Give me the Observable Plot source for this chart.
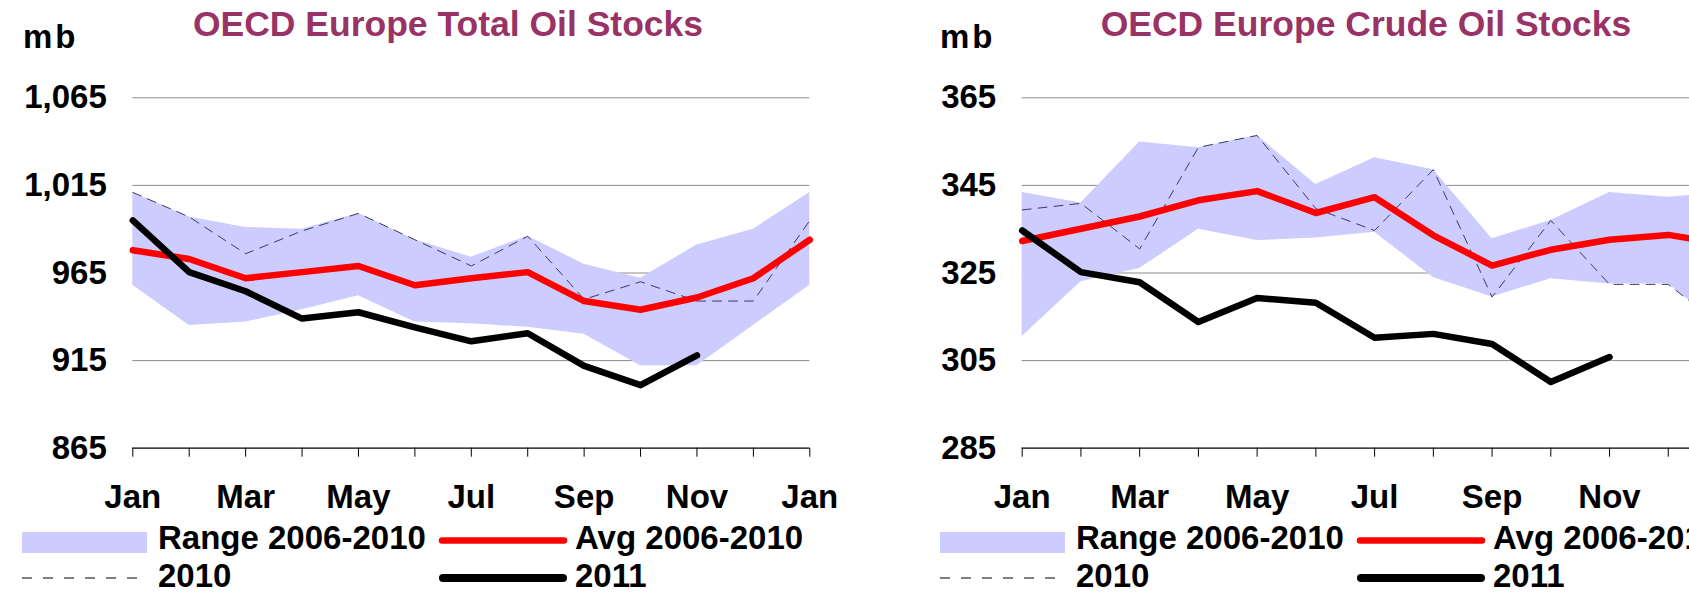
<!DOCTYPE html>
<html><head><meta charset="utf-8">
<script src="https://cdn.jsdelivr.net/npm/d3@7"></script>
<script src="https://cdn.jsdelivr.net/npm/@observablehq/plot@0.6"></script>
<style>
html,body{margin:0;padding:0;background:#fff;}
body{width:1689px;height:609px;overflow:hidden;position:relative;font-family:"Liberation Sans",Arial,sans-serif;}
#overlay{position:absolute;left:0;top:0;pointer-events:none;}
</style>
</head><body>
<div id="c1"></div><div id="c2"></div>
<script>
const months = ["Jan","Feb","Mar","Apr","May","Jun","Jul","Aug","Sep","Oct","Nov","Dec","Jan"];

// OECD Europe Total Oil Stocks (mb)
const totalTicks = [865, 915, 965, 1015, 1065];
const totalRangeLow  = [958, 935, 937, 944, 952, 937, 936, 934, 930, 912, 912, 935, 958];
const totalRangeHigh = [1011, 997, 991, 990, 999, 984, 974, 986, 970, 962, 981, 990, 1011];
const totalAvg       = [978, 973, 962, 965.5, 969, 958, 962, 965.5, 949, 944, 951, 962, 984];
const total2010      = [1011, 997, 976, 989, 999, 984, 969, 986, 950, 960, 949, 949, 995];
const total2011      = [995, 965.5, 954.6, 939, 942.6, 934, 926, 930.6, 912, 901, 918];

// OECD Europe Crude Oil Stocks (mb)
const crudeTicks = [285, 305, 325, 345, 365];
const crudeRangeLow  = [310.5, 323, 326, 335, 332.4, 333, 334.3, 324, 319.5, 323.7, 322.5, 322.5, 312];
const crudeRangeHigh = [343.4, 341, 354.9, 353.6, 356.4, 345.2, 351.3, 348.6, 332.8, 337, 343.4, 342.3, 343.4];
const crudeAvg       = [332.3, 335.1, 337.9, 341.6, 343.7, 338.7, 342.3, 333.6, 326.7, 330.3, 332.6, 333.7, 331.5];
const crude2010      = [339.4, 340.9, 330.5, 353.7, 356.4, 339.7, 334.7, 348.6, 319.5, 337, 322.4, 322.4, 312];
const crude2011      = [334.7, 325.2, 322.9, 313.8, 319.3, 318.2, 310.2, 311.1, 308.8, 300.1, 305.8];

const titles = ["OECD Europe Total Oil Stocks", "OECD Europe Crude Oil Stocks"];
const legendLabels = ["Range 2006-2010", "Avg 2006-2010", "2010", "2011"];
const unitLabel = "mb";

const FONT = "'Liberation Sans', Arial, Helvetica, sans-serif";

function chart({left, width, marginLeft, marginRight, ticks, fmt, low, high, avg, y2010, y2011, lastLabel}) {
  const data = months.map((m, i) => ({i, low: low[i], high: high[i], avg: avg[i], v2010: y2010[i]}));
  const d11 = y2011.map((v, i) => ({i, v}));
  const H = 530;
  return Plot.plot({
    width, height: H,
    marginLeft, marginRight, marginTop: 97.3, marginBottom: H - 447.7,
    x: {type: "linear", domain: [0, 12], label: null},
    y: {domain: [ticks[0], ticks[ticks.length - 1]], label: null},
    style: `position:absolute;left:${left}px;top:0;background:transparent;overflow:visible;font:bold 33px ${FONT};color:#000;`,
    marks: [
      Plot.ruleY(ticks.slice(1), {stroke: "#8a8a8a", strokeWidth: 1}),
      Plot.areaY(data, {x: "i", y1: "low", y2: "high", fill: "#ccccff"}),
      Plot.lineY(data, {x: "i", y: "v2010", stroke: "#3c3c5c", strokeWidth: 1, strokeDasharray: "9,7"}),
      Plot.lineY(data, {x: "i", y: "avg", stroke: "#ff0000", strokeWidth: 6.5, strokeLinejoin: "round", strokeLinecap: "round"}),
      Plot.lineY(d11, {x: "i", y: "v", stroke: "#000", strokeWidth: 6.5, strokeLinejoin: "round", strokeLinecap: "round"}),
      Plot.ruleY([ticks[0]], {stroke: "#000", strokeWidth: 1.3}),
      Plot.axisX({ticks: d3.range(13), tickFormat: i => (i % 2 === 0 && (i < 12 || lastLabel)) ? months[i] : "", tickSize: 9, tickPadding: 27, label: null}),
      Plot.axisY({ticks, tickFormat: fmt, tickSize: 0, tickPadding: 26, label: null})
    ]
  });
}

document.getElementById("c1").appendChild(chart({
  left: 0, width: 845, marginLeft: 132.3, marginRight: 35.7,
  ticks: totalTicks, fmt: d3.format(","), lastLabel: true,
  low: totalRangeLow, high: totalRangeHigh, avg: totalAvg, y2010: total2010, y2011: total2011
}));
document.getElementById("c2").appendChild(chart({
  left: 845, width: 900, marginLeft: 176.7, marginRight: 18.5,
  ticks: crudeTicks, fmt: d3.format(","), lastLabel: false,
  low: crudeRangeLow, high: crudeRangeHigh, avg: crudeAvg, y2010: crude2010, y2011: crude2011
}));

// Overlay: titles, unit labels, legends
const svg = d3.select("body").append("svg").attr("id", "overlay")
  .attr("width", 1689).attr("height", 609)
  .style("font-family", FONT).style("font-weight", "bold");

[[448, 0], [1366, 1]].forEach(([cx, k]) => {
  svg.append("text").attr("x", cx).attr("y", 36).attr("text-anchor", "middle")
    .attr("font-size", 35.5).attr("fill", "#993366").text(titles[k]);
});
[23, 940].forEach(x => {
  svg.append("text").attr("x", x).attr("y", 48).attr("font-size", 33)
    .attr("letter-spacing", 3).attr("fill", "#000").text(unitLabel);
});
[22, 940].forEach(x0 => {
  const g = svg.append("g").attr("transform", `translate(${x0},0)`);
  g.append("rect").attr("x", 0).attr("y", 532).attr("width", 125).attr("height", 21).attr("fill", "#ccccff");
  g.append("line").attr("x1", 0).attr("x2", 125).attr("y1", 578).attr("y2", 578)
    .attr("stroke", "#000").attr("stroke-width", 1).attr("stroke-dasharray", "10,11");
  g.append("line").attr("x1", 420).attr("x2", 542).attr("y1", 540.5).attr("y2", 540.5)
    .attr("stroke", "#ff0000").attr("stroke-width", 6.5).attr("stroke-linecap", "round");
  g.append("line").attr("x1", 421).attr("x2", 541).attr("y1", 578).attr("y2", 578)
    .attr("stroke", "#000").attr("stroke-width", 8).attr("stroke-linecap", "round");
  const t = [[136, 549, 0], [553, 549, 1], [136, 587, 2], [553, 587, 3]];
  t.forEach(([x, y, k]) => g.append("text").attr("x", x).attr("y", y).attr("font-size", 33).attr("fill", "#000").text(legendLabels[k]));
});
</script>
</body></html>
